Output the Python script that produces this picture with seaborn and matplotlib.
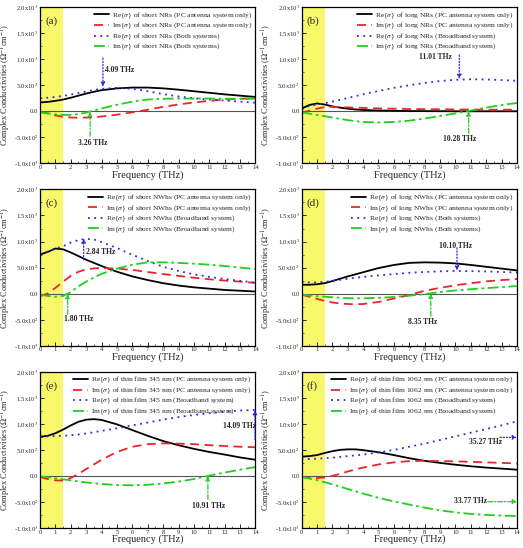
import numpy as np
import matplotlib
matplotlib.use("Agg")
import matplotlib.pyplot as plt
import seaborn as sns
from matplotlib.ticker import FixedLocator, FixedFormatter, MultipleLocator

sns.set_style("ticks")
plt.rcParams['font.family'] = ['Liberation Serif', 'DejaVu Serif']
plt.rcParams['mathtext.fontset'] = 'stix'

freq = [0, 0.5, 1, 1.5, 2, 2.5, 3, 3.5, 4, 5, 6, 7, 8, 9, 10, 11, 12, 13, 14]

# (a) short NRs
re_pc_a = [170, 180, 200, 225, 260, 300, 340, 375, 405, 440, 455, 455, 440, 415, 385, 355, 325, 300, 275]
im_pc_a = [-10, -40, -80, -105, -120, -125, -120, -115, -100, -65, -20, 30, 85, 130, 170, 200, 225, 240, 250]
re_bb_a = [250, 260, 275, 295, 320, 350, 380, 410, 430, 450, 430, 385, 330, 285, 250, 225, 205, 185, 165]
im_bb_a = [-20, -40, -60, -70, -70, -55, -25, 15, 55, 125, 185, 225, 240, 245, 245, 245, 242, 240, 240]

# (b) long NRs
re_pc_b = [50, 120, 150, 130, 95, 70, 50, 35, 25, 15, 10, 5, 3, 2, 0, 0, 0, 0, 0]
im_pc_b = [-30, 10, 50, 80, 85, 80, 75, 70, 65, 55, 50, 45, 40, 38, 35, 33, 30, 30, 30]
re_bb_b = [40, 100, 130, 155, 185, 220, 255, 290, 325, 390, 450, 500, 545, 580, 605, 615, 610, 600, 585]
im_bb_b = [-20, -45, -70, -95, -120, -145, -170, -190, -205, -215, -205, -180, -140, -90, -40, 15, 70, 120, 160]

# (c) short NWhs
re_pc_c = [750, 800, 865, 850, 790, 720, 650, 590, 530, 420, 330, 260, 200, 155, 120, 95, 70, 55, 40]
im_pc_c = [-50, 0, 110, 230, 340, 420, 465, 485, 490, 480, 455, 415, 375, 340, 305, 275, 250, 230, 205]
re_bb_c = [760, 810, 865, 910, 980, 1030, 1050, 1040, 990, 875, 745, 625, 515, 435, 370, 320, 280, 245, 210]
im_bb_c = [-20, -45, -60, -45, 30, 140, 230, 310, 380, 480, 555, 600, 600, 590, 575, 555, 530, 500, 470]

# (d) long NWhs
re_pc_d = [170, 170, 180, 200, 240, 285, 330, 370, 410, 490, 550, 590, 600, 595, 580, 550, 515, 480, 445]
im_pc_d = [-20, -60, -100, -140, -170, -190, -200, -205, -200, -160, -95, -25, 55, 110, 160, 200, 235, 260, 280]
re_bb_d = [220, 215, 215, 225, 245, 265, 285, 305, 320, 350, 375, 400, 415, 428, 435, 432, 425, 415, 405]
im_bb_d = [-20, -35, -50, -60, -70, -80, -88, -90, -90, -82, -65, -40, -10, 30, 60, 85, 105, 125, 145]

# (e) thin film 345 nm
re_pc_e = [750, 770, 820, 890, 970, 1040, 1080, 1090, 1075, 990, 880, 770, 670, 590, 520, 460, 410, 355, 310]
im_pc_e = [-20, -60, -85, -90, -40, 40, 130, 220, 310, 460, 560, 610, 625, 620, 610, 590, 575, 560, 550]
re_bb_e = [760, 760, 765, 770, 780, 795, 815, 840, 865, 915, 970, 1025, 1080, 1130, 1170, 1205, 1235, 1255, 1270]
im_bb_e = [-10, -25, -45, -65, -85, -105, -125, -140, -155, -175, -180, -170, -145, -110, -60, 5, 65, 120, 170]

# (f) thin film 1062 nm
re_pc_f = [370, 380, 400, 440, 475, 500, 510, 510, 495, 455, 400, 340, 290, 250, 215, 185, 160, 140, 120]
im_pc_f = [-20, -35, -40, -30, 0, 40, 85, 125, 160, 220, 260, 285, 290, 285, 280, 270, 260, 250, 240]
re_bb_f = [320, 325, 330, 340, 350, 365, 380, 395, 410, 450, 500, 560, 620, 690, 760, 830, 900, 970, 1050]
im_bb_f = [-20, -50, -80, -120, -160, -205, -250, -295, -340, -420, -490, -550, -610, -660, -700, -730, -750, -762, -770]

samples = ['short NRs', 'long NRs', 'short NWhs', 'long NWhs', 'thin film 345 nm', 'thin film 1062 nm']
second_sys = ['Both systems', 'Broadband system', 'Broadband system', 'Both systems',
              'Broadband system', 'Broadband system']
panel_tags = ['(a)', '(b)', '(c)', '(d)', '(e)', '(f)']
series = [
    (re_pc_a, im_pc_a, re_bb_a, im_bb_a),
    (re_pc_b, im_pc_b, re_bb_b, im_bb_b),
    (re_pc_c, im_pc_c, re_bb_c, im_bb_c),
    (re_pc_d, im_pc_d, re_bb_d, im_bb_d),
    (re_pc_e, im_pc_e, re_bb_e, im_bb_e),
    (re_pc_f, im_pc_f, re_bb_f, im_bb_f),
]

# annotations: (text, text pos, arrow start, arrow end, colour)
notes = [
    [('4.09 THz', (4.2, 800), (4.09, 1020), (4.09, 470), 'blue'),
     ('3.26 THz', (2.5, -610), (3.26, -480), (3.26, -10), 'green')],
    [('11.01 THz', (7.6, 1050), (10.25, 1080), (10.25, 620), 'blue'),
     ('10.28 THz', (9.2, -540), (10.86, -420), (10.86, 0), 'green')],
    [('2.84 THz', (2.96, 790), (2.84, 650), (2.84, 1060), 'blue'),
     ('1.80 THz', (1.56, -490), (1.8, -400), (1.8, -5), 'green')],
    [('10.10 THz', (8.9, 910), (10.1, 880), (10.1, 440), 'blue'),
     ('8.35 THz', (6.9, -540), (8.4, -430), (8.4, 0), 'green')],
    [('14.09 THz', (11.9, 960), (13.97, 700), (13.97, 1265), 'blue'),
     ('10.91 THz', (9.9, -575), (10.91, -450), (10.91, 0), 'green')],
    [('35.27 THz', (10.9, 650), (12.9, 740), (14.0, 740), 'blue'),
     ('33.77 THz', (9.9, -490), (12.1, -495), (14.0, -495), 'green')],
]

c_red = '#e8262b'
c_blue = '#2a2ae0'
c_green = '#1fd01f'
ann_col = {'blue': c_blue, 'green': c_green}
ann_ls = {'blue': (0, (1, 1.5)), 'green': (0, (4, 1.5, 1, 1.5))}

yticks = [-1000, -500, 0, 500, 1000, 1500, 2000]
ylabels = ['-1.0x10$^3$', '-5.0x10$^2$', '0.0', '5.0x10$^2$', '1.0x10$^3$', '1.5x10$^3$', '2.0x10$^3$']

fig, axes = plt.subplots(3, 2, figsize=(5.23, 5.48), dpi=100)
fig.subplots_adjust(left=0.0765, right=0.9885, top=0.987, bottom=0.0365,
                    wspace=0.214, hspace=0.167)

for i, ax in enumerate(axes.flat):
    re_pc, im_pc, re_bb, im_bb = series[i]
    name = samples[i]
    ax.axvspan(0, 1.5, color='#f9f76a', zorder=0, lw=0)
    ax.axhline(0, color='#555555', lw=0.8, zorder=1)
    sns.lineplot(x=freq, y=re_pc, ax=ax, color='black', lw=1.3,
                 label=r'Re{$\sigma$} of ' + name + ' (PC antenna system only)')
    sns.lineplot(x=freq, y=im_pc, ax=ax, color=c_red, lw=1.3, linestyle=(0, (5, 3)),
                 label=r'Im{$\sigma$} of ' + name + ' (PC antenna system only)')
    sns.lineplot(x=freq, y=re_bb, ax=ax, color=c_blue, lw=1.3, linestyle=(0, (1, 2.5)),
                 label=r'Re{$\sigma$} of ' + name + ' (' + second_sys[i] + ')')
    sns.lineplot(x=freq, y=im_bb, ax=ax, color=c_green, lw=1.3, linestyle=(0, (6, 2, 1.5, 2)),
                 label=r'Im{$\sigma$} of ' + name + ' (' + second_sys[i] + ')')

    for txt, txy, a0, a1, col in notes[i]:
        ax.annotate('', xy=a1, xytext=a0, annotation_clip=False,
                    arrowprops=dict(arrowstyle='-|>', color=ann_col[col], lw=0.9,
                                    linestyle=ann_ls[col], mutation_scale=6,
                                    shrinkA=0, shrinkB=0))
        ax.text(txy[0], txy[1], txt, fontsize=5.5, fontweight='bold', va='center', ha='left')

    ax.set_xlim(0, 14)
    ax.set_ylim(-1000, 2000)
    ax.set_xticks(range(0, 15))
    ax.xaxis.set_minor_locator(MultipleLocator(0.5))
    ax.yaxis.set_major_locator(FixedLocator(yticks))
    ax.yaxis.set_major_formatter(FixedFormatter(ylabels))
    ax.yaxis.set_minor_locator(MultipleLocator(250))
    ax.tick_params(axis='both', which='both', direction='in', labelsize=4.8, pad=1.2)
    ax.tick_params(which='major', length=3, width=0.7)
    ax.tick_params(which='minor', length=1.5, width=0.5)
    for sp in ax.spines.values():
        sp.set_linewidth(0.9)
        sp.set_color('black')
    ax.set_xlabel('Frequency (THz)', fontsize=7.5, labelpad=0)
    ax.set_ylabel(r'Complex Conductivities ($\Omega^{-1}$cm$^{-1}$)', fontsize=6.0)
    ax.yaxis.set_label_coords(-0.126, 0.5)
    ax.text(0.35, 1730, panel_tags[i], fontsize=8, va='center', ha='left')
    ax.legend(loc='upper right', frameon=False, fontsize=5.4, handlelength=2.0,
              labelspacing=0.05, borderaxespad=0.15, handletextpad=0.4,
              borderpad=0.3)

fig.savefig('out.png', dpi=100)
